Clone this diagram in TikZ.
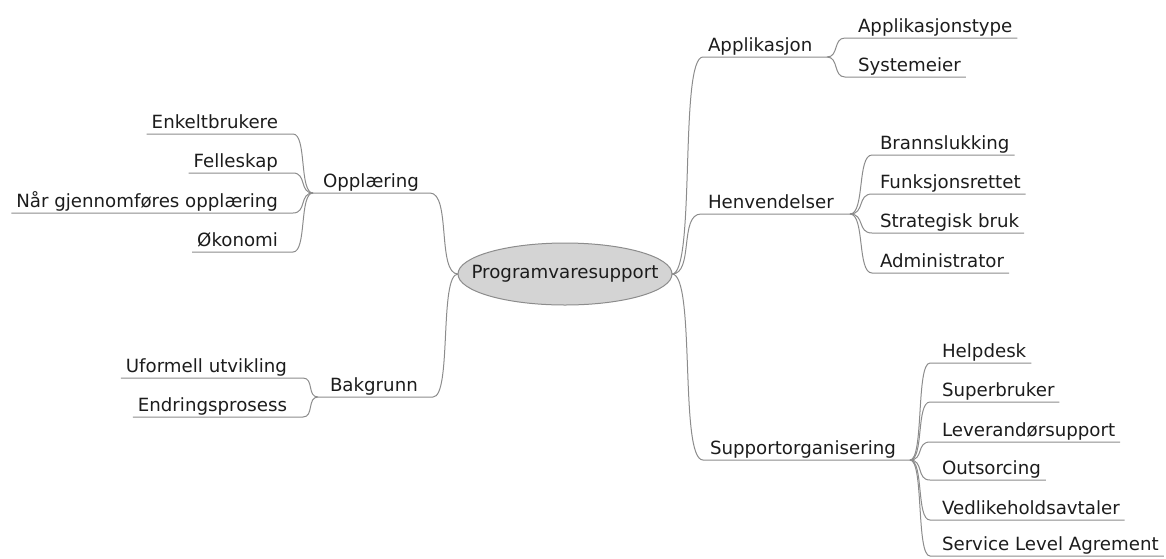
\documentclass[tikz,border=0pt]{standalone}
\usepackage{fontspec}
\setmainfont{DejaVu Sans}
\usetikzlibrary{shapes.geometric}
\definecolor{linkgray}{HTML}{8C8C8C}
\definecolor{hubfill}{HTML}{D4D4D4}
\definecolor{inkgray}{HTML}{1C1C1C}
\begin{document}
\begin{tikzpicture}[x=1pt,y=-1pt,
  every node/.style={font=\fontsize{18.2}{22}\selectfont, text=inkgray},
  hub/.style={ellipse, draw=linkgray, fill=hubfill, line width=1pt,
    minimum width=214pt, minimum height=62pt, inner sep=0pt, outer sep=0pt},
  leaf/.style={inner xsep=5pt, inner ysep=2pt, text height=13pt,
    text depth=4pt, outer sep=0pt},
  link/.style={draw=linkgray, line width=1pt},
]
\useasboundingbox (0,0) rectangle (1166,558);

% central topic (the text box is kept narrow so the ellipse keeps its set size)
\node[hub] (root) at (565,274) {\makebox[0pt]{Programvaresupport}};

% ---------- Opplæring ----------
\coordinate (opE) at (430,193);
\coordinate (opJ) at (313,193);
\coordinate (opL) at (293,193);
\node[leaf, anchor=south west] (opl) at (318,193) {Opplæring};
\draw[link] (root.west) .. controls +(-21,0) and +(21,0) .. (opE) -- (opJ);

\node[leaf, anchor=south east] (enk) at (283,134) {Enkeltbrukere};
\node[leaf, anchor=south east] (fel) at (283,173) {Felleskap};
\node[leaf, anchor=south east] (nar) at (283,213) {Når gjennomføres opplæring};
\node[leaf, anchor=south east] (oko) at (283,252) {Økonomi};
\foreach \n in {enk,fel,nar,oko}
  \draw[link] (opJ) .. controls +(-14,0) and +(14,0) .. (opL |- \n.south) -- (\n.south west);

% ---------- Bakgrunn ----------
\coordinate (bgE) at (433,397);
\coordinate (bgJ) at (318,397);
\coordinate (bgL) at (303,397);
\node[leaf, anchor=south west] (bak) at (325,397) {Bakgrunn};
\draw[link] (root.west) .. controls +(-19,0) and +(19,0) .. (bgE) -- (bgJ);

\node[leaf, anchor=south east] (ufo) at (292,378) {Uformell utvikling};
\node[leaf, anchor=south east] (end) at (292,417) {Endringsprosess};
\foreach \n in {ufo,end}
  \draw[link] (bgJ) .. controls +(-11,0) and +(11,0) .. (bgL |- \n.south) -- (\n.south west);

% ---------- Applikasjon ----------
\coordinate (apS) at (703,57);
\coordinate (apJ) at (827,57);
\coordinate (apR) at (845,57);
\node[leaf, anchor=south west] (app) at (703,57) {Applikasjon};
\draw[link] (root.east) .. controls +(24,0) and +(-24,0) .. (apS) -- (apJ);

\node[leaf, anchor=south west] (apt) at (853,38) {Applikasjonstype};
\node[leaf, anchor=south west] (sys) at (853,77) {Systemeier};
\foreach \n in {apt,sys}
  \draw[link] (apJ) .. controls +(12,0) and +(-12,0) .. (apR |- \n.south) -- (\n.south east);

% ---------- Henvendelser ----------
\coordinate (heS) at (701,214);
\coordinate (heJ) at (850,214);
\coordinate (heR) at (872,214);
\node[leaf, anchor=south west] (hen) at (703,214) {Henvendelser};
\draw[link] (root.east) .. controls +(22,0) and +(-22,0) .. (heS) -- (heJ);

\node[leaf, anchor=south west] (bra) at (875,155) {Brannslukking};
\node[leaf, anchor=south west] (fun) at (875,194) {Funksjonsrettet};
\node[leaf, anchor=south west] (str) at (875,233) {Strategisk bruk};
\node[leaf, anchor=south west] (adm) at (875,273) {Administrator};
\foreach \n in {bra,fun,str,adm}
  \draw[link] (heJ) .. controls +(15,0) and +(-15,0) .. (heR |- \n.south) -- (\n.south east);

% ---------- Supportorganisering ----------
\coordinate (suS) at (703,460);
\coordinate (suJ) at (910,460);
\coordinate (suR) at (930,460);
\node[leaf, anchor=south west] (sup) at (705,460) {Supportorganisering};
\draw[link] (root.east) .. controls +(24,0) and +(-24,0) .. (suS) -- (suJ);

\node[leaf, anchor=south west] (hel) at (937,363) {Helpdesk};
\node[leaf, anchor=south west] (sbr) at (937,402) {Superbruker};
\node[leaf, anchor=south west] (lev) at (937,442) {Leverandørsupport};
\node[leaf, anchor=south west] (out) at (937,480) {Outsorcing};
\node[leaf, anchor=south west] (ved) at (937,520) {Vedlikeholdsavtaler};
\node[leaf, anchor=south west] (sla) at (937,556) {Service Level Agrement};
\foreach \n in {hel,sbr,lev,out,ved,sla}
  \draw[link] (suJ) .. controls +(14,0) and +(-14,0) .. (suR |- \n.south) -- (\n.south east);
\end{tikzpicture}
\end{document}
